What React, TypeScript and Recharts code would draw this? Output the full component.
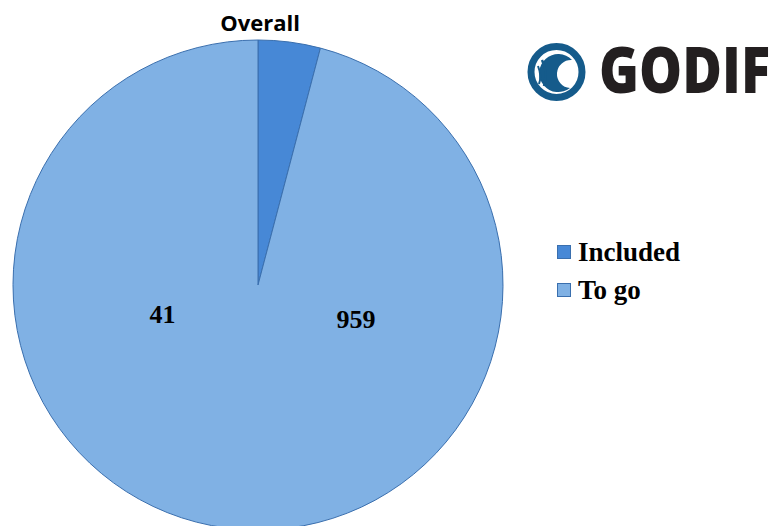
import React from 'react';
import { PieChart, Pie, Cell } from 'recharts';

// Overall progress pie
const categories = ['Included', 'To go'];
const counts = [41, 959];
const colors = ['#4788d6', '#80b1e4'];
const title = 'Overall';

const data = categories.map((name, i) => ({ name, value: counts[i] }));

// Excel put the numbers left and right of the centre, not in the slices
const labelOffsets = [
  { dx: -0.39, dy: 0.12 },
  { dx: 0.4, dy: 0.14 },
];

function renderLabel(props: any) {
  const { cx, cy, outerRadius, index, value } = props;
  const off = labelOffsets[index];
  return (
    <text
      x={cx + off.dx * outerRadius}
      y={cy + off.dy * outerRadius}
      textAnchor="middle"
      dominantBaseline="central"
      fontFamily="'Liberation Serif', serif"
      fontWeight="bold"
      fontSize={26}
      fill="#000"
    >
      {value}
    </text>
  );
}

function LegendBox() {
  return (
    <div
      style={{
        position: 'absolute',
        left: 557,
        top: 233,
        fontFamily: "'Liberation Serif', serif",
        fontWeight: 'bold',
        fontSize: 27,
        color: '#000',
      }}
    >
      {data.map((d, i) => (
        <div key={d.name} style={{ display: 'flex', alignItems: 'center', height: 38 }}>
          <span
            style={{
              display: 'inline-block',
              width: 12,
              height: 12,
              background: colors[i],
              border: '1px solid #3a6fae',
              marginRight: 7,
            }}
          />
          {d.name}
        </div>
      ))}
    </div>
  );
}

function Logo() {
  return (
    <svg width={257} height={80} style={{ position: 'absolute', left: 520, top: 30 }}>
      <circle cx={36.5} cy={42} r={25.5} fill="#fff" stroke="#155b8b" strokeWidth={7} />
      <path d="M 52 30 A 19 19 0 1 0 50 58 A 14 14 0 1 1 52 30 Z" fill="#155b8b" />
      <path d="M 22 30 Q 28 42 24 56" stroke="#155b8b" strokeWidth={2.5} fill="none" />
      <path d="M 18 36 Q 22 46 19 54" stroke="#155b8b" strokeWidth={2} fill="none" />
      <g transform="translate(79,63) scale(0.86,1)">
        <text x={0} y={0} fontFamily="'Open Sans', sans-serif" fontWeight={800} fontSize={63} fill="#231f20">
          GODIF
        </text>
      </g>
    </svg>
  );
}

export default function App() {
  return (
    <div style={{ position: 'absolute', left: 0, top: 0, width: 777, height: 526, background: '#fff', overflow: 'hidden' }}>
      <PieChart width={777} height={526} margin={{ top: 0, right: 0, bottom: 0, left: 0 }}>
        <Pie
          data={data}
          dataKey="value"
          nameKey="name"
          cx={258}
          cy={285}
          outerRadius={245}
          startAngle={90}
          endAngle={-270}
          stroke="#3a6fae"
          strokeWidth={1}
          label={renderLabel}
          labelLine={false}
          isAnimationActive={false}
        >
          {data.map((d, i) => (
            <Cell key={d.name} fill={colors[i]} />
          ))}
        </Pie>
      </PieChart>
      <div
        style={{
          position: 'absolute',
          left: 160,
          width: 200,
          top: 8,
          textAlign: 'center',
          fontFamily: "'Open Sans', sans-serif",
          fontWeight: 700,
          fontSize: 22,
          lineHeight: '28px',
          color: '#000',
        }}
      >
        {title}
      </div>
      <LegendBox />
      <Logo />
    </div>
  );
}
